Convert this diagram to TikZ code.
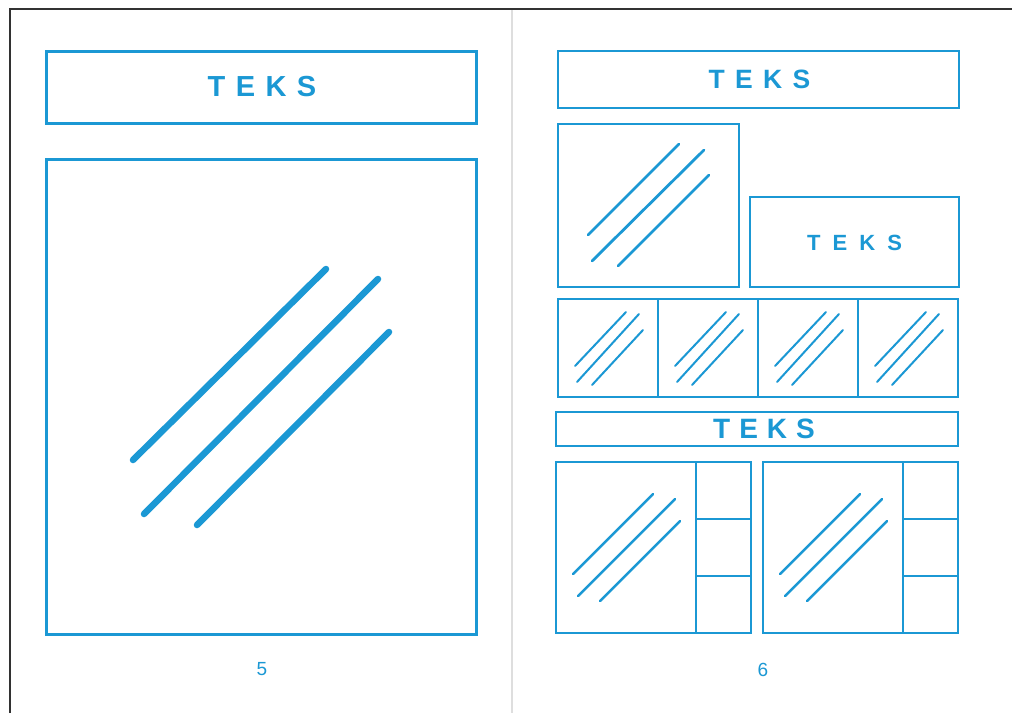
\documentclass[tikz,border=0pt]{standalone}
\usepackage{fontspec}
\setmainfont{Liberation Sans}
\definecolor{lay}{RGB}{27,152,212}
\definecolor{framegray}{RGB}{50,50,50}
\definecolor{guttergray}{RGB}{222,222,222}
\newcommand{\tekword}[2]{{\fontsize{#1}{#1}\selectfont\bfseries T\kern#2em E\kern#2em K\kern#2em S}}
\tikzset{
  box/.style={draw=lay, line width=2.6pt, inner sep=0pt, outer sep=0pt, anchor=north west},
  bigbox/.style={box, line width=3pt},
  teks/.style={text=lay, inner sep=0pt},
  pagenum/.style={text=lay, inner sep=0pt, font=\fontsize{19}{19}\selectfont},
  glassbig/.style={draw=lay, line cap=round, line width=6.5pt},
  glassmid/.style={draw=lay, line cap=round, line width=2.8pt},
  glasssmall/.style={draw=lay, line cap=round, line width=2pt},
  glassbot/.style={draw=lay, line cap=round, line width=2.5pt}
}
\begin{document}
\begin{tikzpicture}[x=1pt,y=-1pt]
\useasboundingbox (0,0) rectangle (1012,713);
\fill[white] (0,0) rectangle (1012,713);
% page frame and gutter
\draw[guttergray, line width=2pt] (512,10) -- (512,713);
\draw[framegray, line width=1.5pt] (10,713) -- (10,9) -- (1012,9);

% ---------- left page ----------
\node[bigbox, minimum width=430pt, minimum height=72pt] (lhead) at (46,51) {};
\node[teks] (lheadt) at ([xshift=1pt]lhead.center) {\tekword{29}{0.36}};
\node[bigbox, minimum width=430pt, minimum height=475pt] (limg) at (46,159) {};
\draw[glassbig] (133,460) -- (326,269);
\draw[glassbig] (144,514) -- (378,279);
\draw[glassbig] (197,525) -- (389,332);
\node[pagenum] (p5) at (262,669) {5};

% ---------- right page ----------
\node[box, minimum width=401pt, minimum height=57pt] (rhead) at (558,51) {};
\node[teks] (rheadt) at ([xshift=1pt]rhead.center) {\tekword{26.5}{0.39}};

\node[box, minimum width=181pt, minimum height=163pt] (rimg) at (558,124) {};
\draw[glassmid] (588,235) -- (679,144);
\draw[glassmid] (592,261) -- (704,150);
\draw[glassmid] (618,266) -- (709,175);

\node[box, minimum width=209pt, minimum height=90pt] (rtext) at (750,197) {};
\node[teks] (rtextt) at ([yshift=-1pt]rtext.center) {\tekword{22}{0.55}};

% row of four pictures
\foreach \i in {0,1,2,3}{
  \node[box, minimum width=100pt, minimum height=98pt] (cell\i) at (558+\i*100,299) {};
  \draw[glasssmall] (575+\i*100,366) -- (626+\i*100,312);
  \draw[glasssmall] (577+\i*100,382) -- (639+\i*100,314);
  \draw[glasssmall] (592+\i*100,385) -- (643+\i*100,330);
}

\node[box, minimum width=402pt, minimum height=34pt] (rbar) at (556,412) {};
\node[teks] (rbart) at ([xshift=7pt]rbar.center) {\tekword{28}{0.32}};

% bottom two picture blocks
\foreach \j/\x in {0/556,1/763}{
  \node[box, minimum width=140pt, minimum height=171pt] (bmain\j) at (\x,462) {};
  \node[box, minimum width=55pt, minimum height=57pt] (bside\j a) at (\x+140,462) {};
  \node[box, minimum width=55pt, minimum height=57pt] (bside\j b) at (\x+140,519) {};
  \node[box, minimum width=55pt, minimum height=57pt] (bside\j c) at (\x+140,576) {};
  \draw[glassbot] (\x+17,574) -- (\x+97,494);
  \draw[glassbot] (\x+22,596) -- (\x+119,499);
  \draw[glassbot] (\x+44,601) -- (\x+124,521);
}
\node[pagenum] (p6) at (763,670) {6};
\end{tikzpicture}
\end{document}
